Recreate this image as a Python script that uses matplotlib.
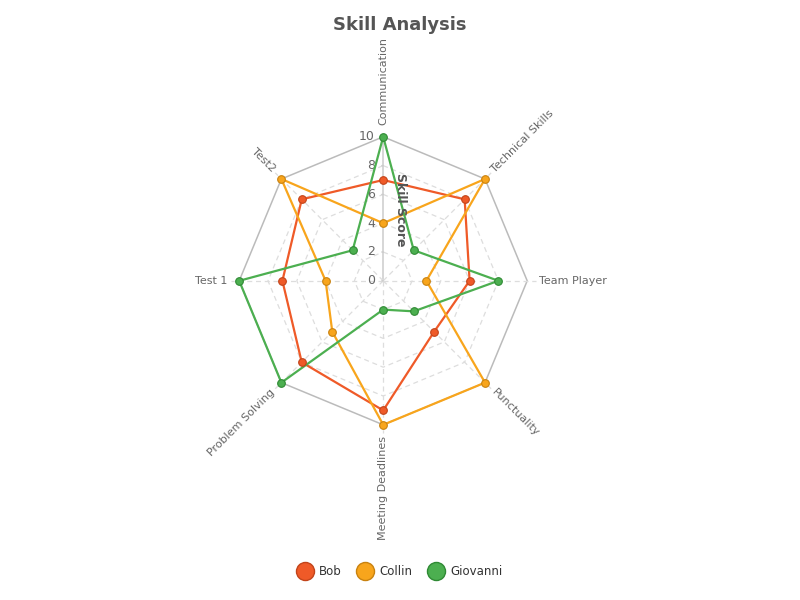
import numpy as np
import matplotlib
matplotlib.use("Agg")
import matplotlib.pyplot as plt
from matplotlib.lines import Line2D

skills = ["Communication", "Technical Skills", "Team Player", "Punctuality",
          "Meeting Deadlines", "Problem Solving", "Test 1", "Test2"]
bob = [7, 8, 6, 5, 9, 8, 7, 8]
collin = [4, 10, 3, 10, 10, 5, 4, 10]
giovanni = [10, 3, 8, 3, 2, 10, 10, 3]
score_ticks = [0, 2, 4, 6, 8, 10]

series = [("Bob", bob, "#ef5a28", "#c2441a"),
          ("Collin", collin, "#f8a51c", "#c9820f"),
          ("Giovanni", giovanni, "#4caf50", "#2f8a34")]

text_color = "#666666"
plt.rcParams["font.family"] = "DejaVu Sans"

fig = plt.figure(figsize=(8, 6), dpi=100)
ax = fig.add_axes([0.290, 0.280, 0.378, 0.504], projection="polar")
ax.set_theta_zero_location("N")
ax.set_theta_direction(-1)
ax.set_ylim(0, 10.5)
ax.grid(False)
ax.spines["polar"].set_visible(False)
ax.set_xticks([])
ax.set_yticks([])
ax.patch.set_alpha(0)

angles = np.linspace(0, 2 * np.pi, len(skills), endpoint=False)
closed = np.append(angles, angles[0])

# polygon grid
for r in score_ticks[1:]:
    if r == score_ticks[-1]:
        ax.plot(closed, [r] * len(closed), color="#bbbbbb", lw=1.1, zorder=1)
    else:
        ax.plot(closed, [r] * len(closed), color="#dddddd", lw=0.9,
                ls=(0, (4, 3)), zorder=1)

# spokes
for i, a in enumerate(angles):
    if i == 0:
        ax.plot([a, a], [0, 10], color="#cccccc", lw=1.1, zorder=1)
    else:
        ax.plot([a, a], [0, 10.6], color="#dddddd", lw=0.9,
                ls=(0, (4, 3)), zorder=1, clip_on=False)

# radial tick labels
for r in score_ticks:
    ax.annotate(str(r), xy=(0, r), xytext=(-6, 0), textcoords="offset points",
                ha="right", va="center", fontsize=9, color=text_color)
    ax.annotate("", xy=(0, r), xytext=(-3, 0), textcoords="offset points",
                arrowprops=dict(arrowstyle="-", color="#cccccc", lw=1))

# axis labels
for a, name in zip(angles, skills):
    deg = np.degrees(a)
    if deg < 180:
        rot, ha = 90 - deg, "left"
    else:
        rot, ha = 270 - deg, "right"
    ax.text(a, 10.8, name, rotation=rot, rotation_mode="anchor", ha=ha,
            va="center", fontsize=8, color=text_color)

for name, vals, color, edge in series:
    v = np.append(vals, vals[0])
    ax.plot(closed, v, color=color, lw=1.6, zorder=3, clip_on=False)
    ax.plot(angles, vals, "o", color=color, markeredgecolor=edge,
            markersize=5.5, markeredgewidth=0.8, zorder=4, clip_on=False)

fig.text(0.5, 0.958, "Skill Analysis", ha="center", va="center",
         fontsize=13, fontweight="bold", color="#555555")
fig.text(0.501, 0.650, "Skill Score", rotation=-90, ha="center", va="center",
         fontsize=9, fontweight="bold", color="#555555")

handles = [Line2D([], [], ls="none", marker="o", markersize=13,
                  markerfacecolor=c, markeredgecolor=e, label=n)
           for n, _, c, e in series]
leg = fig.legend(handles=handles, loc="center", bbox_to_anchor=(0.5, 0.047),
                 ncol=3, frameon=False, fontsize=8.5, handletextpad=0.6,
                 columnspacing=1.4, handlelength=1.2)
for t in leg.get_texts():
    t.set_color("#333333")

fig.savefig("out.png", dpi=100)
